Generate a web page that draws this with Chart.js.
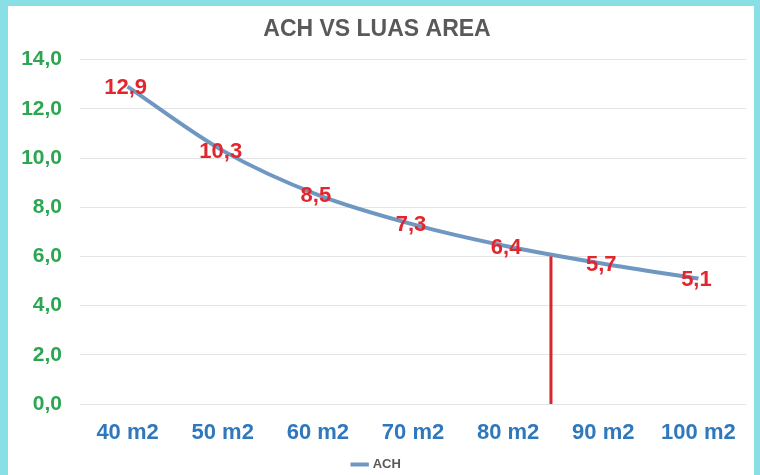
<!DOCTYPE html>
<html>
<head>
<meta charset="utf-8">
<script src="https://cdn.jsdelivr.net/npm/chart.js@4/dist/chart.umd.min.js"></script>
<style>
    body { margin: 0; width: 760px; height: 475px; background: #88e0e4; overflow: hidden; }
    #card { position: absolute; left: 8px; top: 6px; width: 746px; height: 469px; background: #fff; overflow: hidden; }
</style>
</head>
<body>
<div id="card"><canvas id="achChart" width="746" height="475"></canvas></div>
<script>
// Dati del grafico
const areaLabels = ['40 m2', '50 m2', '60 m2', '70 m2', '80 m2', '90 m2', '100 m2'];
const areaValues = [40, 50, 60, 70, 80, 90, 100];
const achValues = [12.9, 10.3, 8.5, 7.3, 6.4, 5.7, 5.1];
const yTicks = [0, 2, 4, 6, 8, 10, 12, 14];

// Linea rossa verticale (luas area ~84,5 m2, fino ad ACH 6,0)
const markerArea = 84.5;
const markerTop = 6.0;

const fontFamily = '"Liberation Sans", Arial, sans-serif';

// Formato con virgola decimale
function fmt(v) {
    return v.toFixed(1).replace('.', ',');
}

// Plugin: linea rossa e etichette dei valori
const annotations = {
    id: 'annotations',
    afterDatasetsDraw(chart) {
        const ctx = chart.ctx;
        const x = chart.scales.x;
        const y = chart.scales.y;

        // indice frazionario sulla scala a categorie
        const step = areaValues[1] - areaValues[0];
        const idx = (markerArea - areaValues[0]) / step;
        const px = x.getPixelForValue(idx);
        ctx.save();
        ctx.strokeStyle = '#d9262c';
        ctx.lineWidth = 3;
        ctx.beginPath();
        ctx.moveTo(px, y.getPixelForValue(0));
        ctx.lineTo(px, y.getPixelForValue(markerTop));
        ctx.stroke();

        // etichette rosse centrate sui punti
        const meta = chart.getDatasetMeta(0);
        ctx.fillStyle = '#e3262d';
        ctx.font = 'bold 22px ' + fontFamily;
        ctx.textAlign = 'center';
        ctx.textBaseline = 'middle';
        meta.data.forEach((pt, i) => {
            ctx.fillText(fmt(achValues[i]), pt.x - 2, pt.y + 1);
        });
        ctx.restore();
    }
};

new Chart(document.getElementById('achChart'), {
    type: 'line',
    data: {
        labels: areaLabels,
        datasets: [{
            label: 'ACH',
            data: achValues,
            borderColor: '#6f97c2',
            backgroundColor: '#6f97c2',
            borderWidth: 4,
            cubicInterpolationMode: 'monotone',
            pointRadius: 0,
            fill: false
        }]
    },
    options: {
        responsive: false,
        animation: false,
        layout: { padding: { left: 0, right: 8, top: 0, bottom: 0 } },
        plugins: {
            title: {
                display: true,
                text: 'ACH VS LUAS AREA',
                color: '#595959',
                font: { family: fontFamily, size: 23, weight: 'bold' },
                padding: { top: 10, bottom: 16 }
            },
            legend: {
                display: true,
                position: 'bottom',
                labels: {
                    color: '#595959',
                    font: { family: fontFamily, size: 13, weight: 'bold' },
                    usePointStyle: true,
                    pointStyle: 'line',
                    boxWidth: 26,
                    padding: 0
                }
            },
            tooltip: { enabled: false }
        },
        scales: {
            y: {
                min: 0,
                max: 14,
                afterBuildTicks: (scale) => { scale.ticks = yTicks.map(v => ({ value: v })); },
                afterFit: (scale) => { scale.width = 72; },
                ticks: {
                    color: '#2ca651',
                    font: { family: fontFamily, size: 21, weight: 'bold' },
                    padding: 18,
                    callback: (v) => fmt(v)
                },
                grid: { color: '#e4e4e4', drawTicks: false },
                border: { display: false }
            },
            x: {
                offset: true,
                afterFit: (scale) => { scale.height = 54; },
                ticks: {
                    color: '#2f78bd',
                    font: { family: fontFamily, size: 22, weight: 'bold' },
                    padding: 16,
                    maxRotation: 0
                },
                grid: { display: false, drawTicks: false },
                border: { display: false }
            }
        }
    },
    plugins: [annotations]
});
</script>
</body>
</html>
